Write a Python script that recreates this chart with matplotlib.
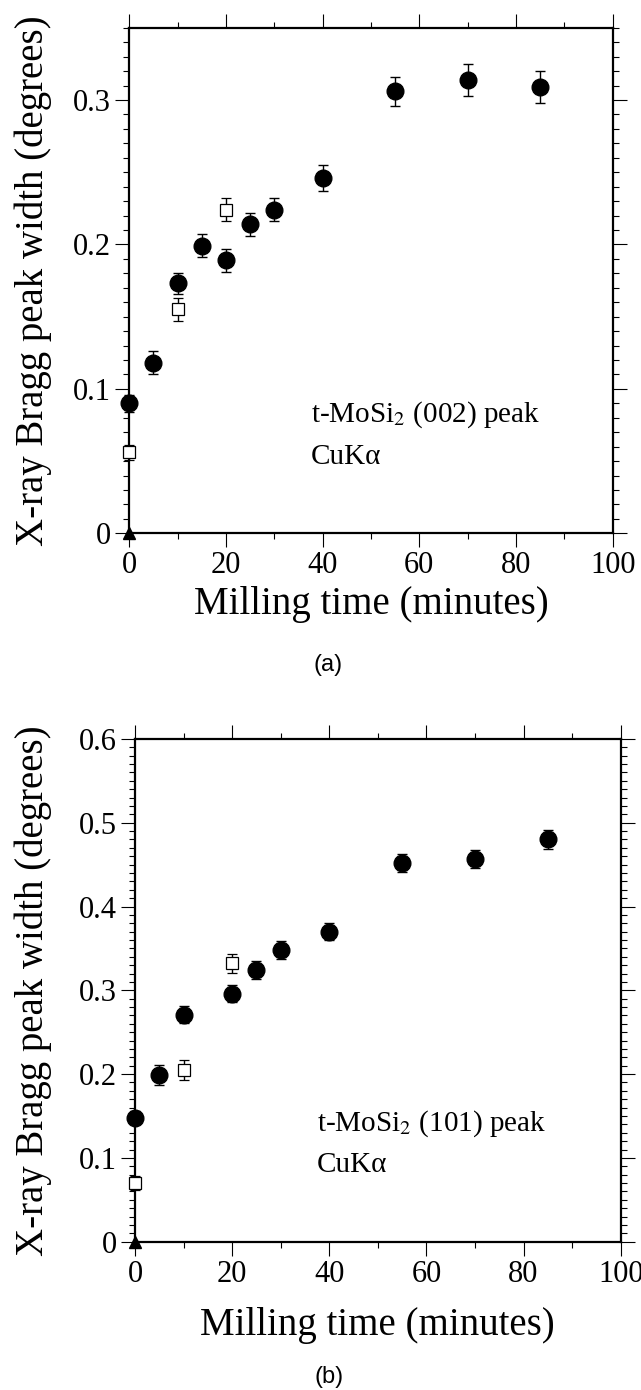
import matplotlib
matplotlib.use("Agg")
import matplotlib.pyplot as plt
import matplotlib.transforms as mtransforms
from matplotlib.ticker import MultipleLocator, FuncFormatter

# ------------------------------------------------------
# Data
# ------------------------------------------------------
# (a) t-MoSi2 (002) peak
t_circ_a = [0, 5, 10, 15, 20, 25, 30, 40, 55, 70, 85]
w_circ_a = [0.090, 0.118, 0.173, 0.199, 0.189, 0.214, 0.224, 0.246, 0.306, 0.314, 0.309]
e_circ_a = [0.006, 0.008, 0.007, 0.008, 0.008, 0.008, 0.008, 0.009, 0.010, 0.011, 0.011]
t_sq_a = [0, 10, 20]
w_sq_a = [0.056, 0.155, 0.224]
e_sq_a = [0.005, 0.008, 0.008]

# (b) t-MoSi2 (101) peak
t_circ_b = [0, 5, 10, 20, 25, 30, 40, 55, 70, 85]
w_circ_b = [0.148, 0.199, 0.271, 0.296, 0.324, 0.348, 0.370, 0.452, 0.457, 0.480]
e_circ_b = [0.008, 0.012, 0.010, 0.010, 0.011, 0.011, 0.010, 0.011, 0.011, 0.011]
t_sq_b = [0, 10, 20]
w_sq_b = [0.070, 0.205, 0.332]
e_sq_b = [0.008, 0.012, 0.011]

# triangle at origin (reference)
t_tri = [0]
w_tri = [0]

serif = "Liberation Serif"
sans = "Liberation Sans"


def fmt(v, pos):
    if abs(v) < 1e-9:
        return "0"
    return "%.1f" % v


def draw_panel(ax, tc, wc, ec, ts, ws, es, ymax, peak, tick_fs, label_fs):
    ax.errorbar(tc, wc, yerr=ec, fmt="o", color="black", ms=12, capsize=3.5,
                elinewidth=1, capthick=1, clip_on=False, zorder=5)
    ax.errorbar(ts, ws, yerr=es, fmt="s", mfc="white", mec="black", mew=0.9,
                color="black", ms=9, capsize=3.5, elinewidth=1, capthick=1,
                clip_on=False, zorder=5)
    ax.plot(t_tri, w_tri, "^", color="black", ms=9, clip_on=False, zorder=6)

    ax.set_xlim(0, 100)
    ax.set_ylim(0, ymax)
    ax.xaxis.set_major_locator(MultipleLocator(20))
    ax.xaxis.set_minor_locator(MultipleLocator(10))
    ax.yaxis.set_major_locator(MultipleLocator(0.1))
    ax.yaxis.set_minor_locator(MultipleLocator(0.01))
    ax.yaxis.set_major_formatter(FuncFormatter(fmt))

    ax.tick_params(which="both", direction="out", top=True, right=True,
                   width=0.8, colors="black")
    ax.tick_params(which="major", length=10, pad=3, labelsize=tick_fs)
    ax.tick_params(which="minor", length=4.5)
    for lab in ax.get_xticklabels() + ax.get_yticklabels():
        lab.set_fontfamily(serif)
    for s in ax.spines.values():
        s.set_linewidth(1.6)

    ax.set_xlabel("Milling time (minutes)", fontsize=label_fs, family=serif)
    ax.set_ylabel("X-ray Bragg peak width (degrees)", fontsize=label_fs, family=serif)

    ax.text(0.375, 0.235, "t-MoSi$_2$ (%s) peak" % peak, transform=ax.transAxes,
            fontsize=21, family=serif, va="center", ha="left")
    ax.text(0.375, 0.152, "CuK\u03b1", transform=ax.transAxes,
            fontsize=21, family=serif, va="center", ha="left")


plt.rcParams["mathtext.fontset"] = "stix"

fig = plt.figure(figsize=(6.41, 13.90), dpi=100)
ax1 = fig.add_axes([0.2017, 0.6163, 0.7541, 0.3637])
ax2 = fig.add_axes([0.2106, 0.1067, 0.7577, 0.3617])

draw_panel(ax1, t_circ_a, w_circ_a, e_circ_a, t_sq_a, w_sq_a, e_sq_a, 0.35, "002", 22, 28)
draw_panel(ax2, t_circ_b, w_circ_b, e_circ_b, t_sq_b, w_sq_b, e_sq_b, 0.6, "101", 22, 28)

ax1.xaxis.set_label_coords(0.5, -0.105)
ax1.yaxis.set_label_coords(-0.16, 0.5)
ax2.xaxis.set_label_coords(0.5, -0.13)
ax2.yaxis.set_label_coords(-0.17, 0.5)

# nudge the last x tick label of (b) a little left so it stays inside the figure
last = ax2.xaxis.get_major_ticks()[-1].label1
last.set_transform(last.get_transform() +
                   mtransforms.ScaledTranslation(-5 / 72, 0, fig.dpi_scale_trans))

fig.text(328 / 641, 1 - 665 / 1390, "(a)", family=sans, fontsize=17, ha="center", va="center")
fig.text(329 / 641, 1 - 1377 / 1390, "(b)", family=sans, fontsize=17, ha="center", va="center")

fig.savefig("out.png", dpi=100)
